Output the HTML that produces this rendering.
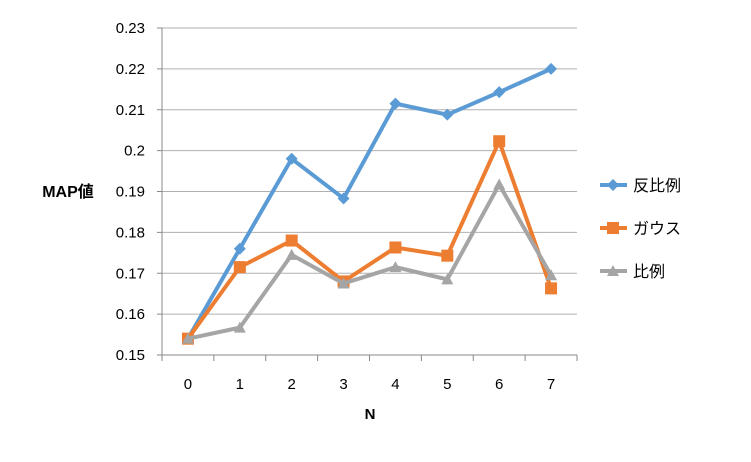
<!DOCTYPE html>
<html><head><meta charset="utf-8"><style>
body{margin:0;background:#fff}
svg text{font-family:"Liberation Sans","Noto Sans CJK JP",sans-serif;font-size:15px;fill:#000}
</style></head><body>
<svg id="c" width="751" height="457"></svg>
<script>
const categories=["0","1","2","3","4","5","6","7"];
const yTicks=[0.15,0.16,0.17,0.18,0.19,0.2,0.21,0.22,0.23];
const yTickLabels=["0.15","0.16","0.17","0.18","0.19","0.2","0.21","0.22","0.23"];
const seriesNames=["反比例","ガウス","比例"];
const inverse=[0.154,0.176,0.198,0.1883,0.2115,0.2088,0.2143,0.220];
const gauss=[0.154,0.1715,0.178,0.168,0.1763,0.1743,0.2023,0.1663];
const prop=[0.154,0.1567,0.1745,0.1675,0.1715,0.1685,0.1917,0.1695];
const colors=["#5b9bd5","#ed7d31","#a5a5a5"];
const NS="http://www.w3.org/2000/svg";
const svg=document.getElementById('c');
const L=162,R=577,T=28,B=355;
const y=v=>B-(v-0.15)/(0.08)*(B-T);
const step=(R-L)/categories.length;
const x=i=>L+step*(i+0.5);
function mk(t,a,p){const e=document.createElementNS(NS,t);for(const k in a)e.setAttribute(k,a[k]);(p||svg).appendChild(e);return e;}
yTicks.forEach((v,i)=>{
 const g=mk('line',{x1:L,x2:R,y1:y(v),y2:y(v),stroke:'#b0b0b0','stroke-width':1});
 
 
 const t=mk('text',{x:145,y:y(v)+5,'text-anchor':'end'});t.textContent=yTickLabels[i];
 
 
 mk('line',{x1:L-5,x2:L,y1:y(v),y2:y(v),stroke:'#888'});
});
mk('line',{x1:L,x2:L,y1:T,y2:B,stroke:'#888'});
mk('line',{x1:L,x2:R,y1:B,y2:B,stroke:'#888'});
for(let i=0;i<=categories.length;i++)mk('line',{x1:L+step*i,x2:L+step*i,y1:B,y2:B+6,stroke:'#888'});
categories.forEach((c,i)=>{const t=mk('text',{x:x(i),y:389,'text-anchor':'middle'});t.textContent=c;
 
 });
const xt=mk('text',{x:370,y:419,'text-anchor':'middle','font-weight':'bold'});xt.textContent='N';


const yt=mk('text',{x:68,y:197,'text-anchor':'middle','font-weight':'bold','style':'font-size:16px'});yt.textContent='MAP値';


function marker(i,cx,cy,g){
 const c=colors[i];
 if(i===0)return mk('polygon',{points:`${cx},${cy-6} ${cx+6},${cy} ${cx},${cy+6} ${cx-6},${cy}`,fill:c},g);
 if(i===1)return mk('rect',{x:cx-6,y:cy-6,width:12,height:12,fill:c},g);
 return mk('polygon',{points:`${cx},${cy-6} ${cx+6},${cy+5} ${cx-6},${cy+5}`,fill:c},g);
}
[inverse,gauss,prop].forEach((d,si)=>{
 const g=mk('g',{});
 
 
 mk('polyline',{points:d.map((v,i)=>x(i)+','+y(v)).join(' '),fill:'none',stroke:colors[si],'stroke-width':4,'stroke-linejoin':'round'},g);
 d.forEach((v,i)=>{const m=marker(si,x(i),y(v),g);
  
  });
 const ly=185+si*43;
 const lg=mk('g',{});
 
 
 mk('line',{x1:600,x2:627,y1:ly,y2:ly,stroke:colors[si],'stroke-width':4},lg);
 marker(si,613,ly,lg);
 const t=mk('text',{x:633,y:ly+6,'style':'font-size:16px'},lg);t.textContent=seriesNames[si];
});
</script>
</body></html>
